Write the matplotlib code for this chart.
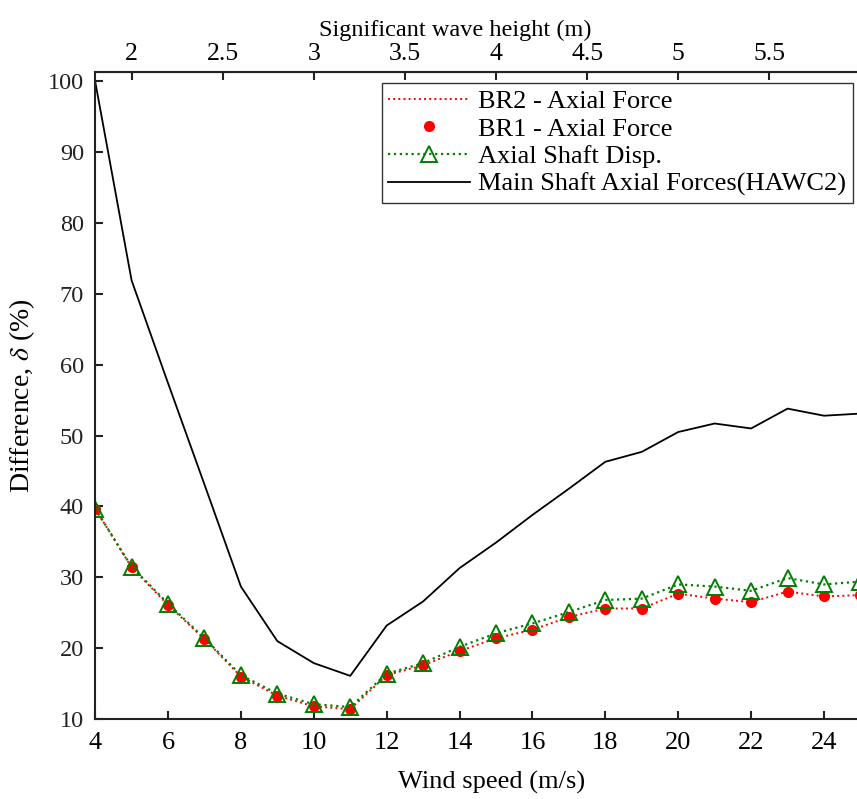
import matplotlib
matplotlib.use('Agg')
import matplotlib.pyplot as plt

plt.rcParams['font.family'] = ['Liberation Serif', 'DejaVu Serif']
plt.rcParams['mathtext.fontset'] = 'stix'

wind = [4, 5, 6, 7, 8, 9, 10, 11, 12, 13, 14, 15, 16, 17, 18, 19, 20, 21, 22, 23, 24, 25]
br1 = [39.7, 31.4, 26.1, 21.3, 16.0, 13.3, 11.8, 11.4, 16.2, 17.6, 19.6,
       21.4, 22.6, 24.4, 25.6, 25.6, 27.7, 27.0, 26.5, 28.0, 27.3, 27.5]
br2 = br1
shaft_disp = [39.7, 31.5, 26.3, 21.4, 16.2, 13.6, 12.1, 11.7, 16.4, 17.9, 20.2,
              22.1, 23.5, 25.1, 26.8, 27.0, 29.0, 28.7, 28.1, 29.9, 29.0, 29.4]
hawc2 = [100, 71.9, 57.4, 43.1, 28.7, 21.0, 17.9, 16.1, 23.2, 26.6, 31.3,
         34.9, 38.8, 42.5, 46.3, 47.7, 50.5, 51.7, 51.0, 53.8, 52.8, 53.1]
wave_ticks = [2, 2.5, 3, 3.5, 4, 4.5, 5, 5.5]

fig = plt.figure(figsize=(8.57, 7.99), dpi=100)
ax = fig.add_axes([0.111, 0.100, 0.893, 0.810])

ax.plot(wind, br2, color='red', linestyle=':', linewidth=1.4, label='BR2 - Axial Force')
ax.plot(wind, br1, color='red', linestyle='none', marker='o', markersize=7,
        label='BR1 - Axial Force')
ax.plot(wind, shaft_disp, color='green', linestyle=':', linewidth=1.6, marker='^',
        markersize=12, markerfacecolor='none', markeredgecolor='green',
        markeredgewidth=1.4, label='Axial Shaft Disp.')
ax.plot(wind, hawc2, color='black', linewidth=1.3, label='Main Shaft Axial Forces(HAWC2)')

ax.set_xlim(4, 25)
ax.set_ylim(10, 101.3)
ax.set_xticks(range(4, 25, 2))
ax.set_yticks(range(10, 101, 10))
ax.tick_params(direction='in', length=6, width=1.5, colors='#222222')
ax.tick_params(axis='x', labelsize=19, pad=9, labelcolor='black')
ax.tick_params(axis='y', labelsize=17.5, pad=8, labelcolor='#222222')
for s in ['left', 'bottom', 'top']:
    ax.spines[s].set_linewidth(1.5)
    ax.spines[s].set_color('#222222')
ax.spines['right'].set_visible(False)

ax.set_xlabel('Wind speed (m/s)', fontsize=19)
ax.xaxis.set_label_coords(0.518, -0.080)
ax.set_ylabel(r'Difference, $\delta$ (%)', fontsize=20)
ax.yaxis.set_label_coords(-0.076, 0.5)

top = ax.secondary_xaxis('top', functions=(lambda w: 2 + 0.2 * (w - 5),
                                           lambda h: 5 + (h - 2) / 0.2))
top.set_xticks(wave_ticks)
top.set_xticklabels(['2', '2.5', '3', '3.5', '4', '4.5', '5', '5.5'])
top.tick_params(direction='in', length=6, width=1.5, labelsize=18.5, pad=5,
                colors='#222222', labelcolor='black')
top.set_xlabel('Significant wave height (m)', fontsize=17.5)
top.xaxis.set_label_coords(0.47, 1.056, transform=ax.transAxes)

leg = ax.legend(loc='upper right', bbox_to_anchor=(0.990, 0.983), fontsize=19,
                frameon=True, fancybox=False, edgecolor='#333333', framealpha=1,
                handlelength=3.1, borderpad=0.25, labelspacing=0.16, handletextpad=0.3,
                borderaxespad=0)
leg.get_frame().set_linewidth(1.0)

fig.savefig('out.png', dpi=100)
